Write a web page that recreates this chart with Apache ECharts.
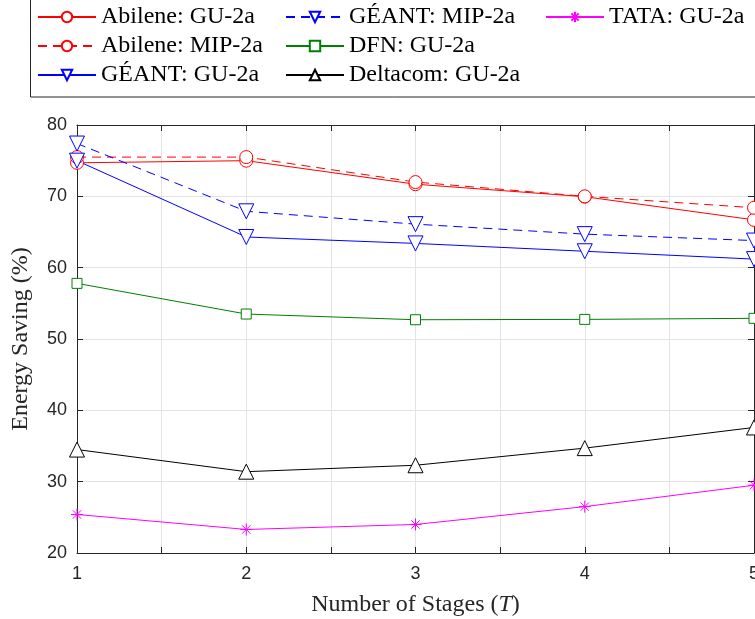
<!DOCTYPE html>
<html>
<head>
<meta charset="utf-8">
<script src="https://cdn.jsdelivr.net/npm/echarts@6/dist/echarts.min.js"></script>
<style>
  html, body { margin: 0; padding: 0; background: #fff; }
  #chart { width: 755px; height: 619px; }
</style>
</head>
<body>
<div id="chart"></div>
<script>
// data
const stages = [1, 2, 3, 4, 5];
const abileneGU = [74.7, 75.0, 71.7, 69.95, 66.7];
const abileneMIP = [75.5, 75.5, 72.0, 70.0, 68.4];
const geantGU = [75.0, 64.3, 63.4, 62.3, 61.2];
const geantMIP = [77.4, 67.9, 66.1, 64.7, 63.8];
const dfnGU = [57.8, 53.5, 52.7, 52.75, 52.9];
const deltacomGU = [34.5, 31.4, 32.3, 34.7, 37.6];
const tataGU = [25.4, 23.3, 24.0, 26.5, 29.5];
const yTicks = [20, 30, 40, 50, 60, 70, 80];

const serif = '"Liberation Serif", "DejaVu Serif", serif';
const sans = 'Helvetica, Arial, "Liberation Sans", sans-serif';
const axisColor = '#262626';
const asterisk = 'path://M0,-10L0,10M-10,0L10,0M-7,-7L7,7M-7,7L7,-7';

function pts(arr) {
    return stages.map(function (x, i) { return [x, arr[i]]; });
}

function mk(name, arr, color, symbol, size, dashed, rotate) {
    return {
        name: name,
        type: 'line',
        data: pts(arr),
        symbol: symbol,
        symbolSize: size,
        symbolRotate: rotate || 0,
        showAllSymbol: true,
        lineStyle: { color: color, width: 1, type: dashed ? [9, 6] : 'solid' },
        itemStyle: { color: symbol === asterisk ? 'none' : '#fff', borderColor: color, borderWidth: 1 },
        emphasis: { disabled: true },
        animation: false,
        z: 3
    };
}

const series = [
    mk('Abilene: GU-2a', abileneGU, '#ff0000', 'circle', 13, false),
    mk('Abilene: MIP-2a', abileneMIP, '#ff0000', 'circle', 13, true),
    mk('GÉANT: GU-2a', geantGU, '#0000ff', 'triangle', 15, false, 180),
    mk('GÉANT: MIP-2a', geantMIP, '#0000ff', 'triangle', 15, true, 180),
    mk('DFN: GU-2a', dfnGU, '#008000', 'rect', 10, false),
    mk('Deltacom: GU-2a', deltacomGU, '#000000', 'triangle', 15, false),
    mk('TATA: GU-2a', tataGU, '#ff00ff', asterisk, 12, false)
];

function legendCol(names, left) {
    return {
        data: names,
        orient: 'vertical',
        left: left,
        top: 5,
        padding: 0,
        itemWidth: 58,
        itemHeight: 13,
        itemGap: 5,
        selectedMode: false,
        textStyle: { fontFamily: serif, fontSize: 24, lineHeight: 24, color: '#000', padding: [0, 0, 0, 0] }
    };
}

const chart = echarts.init(document.getElementById('chart'));
chart.setOption({
    backgroundColor: '#fff',
    animation: false,
    graphic: [{
        type: 'rect',
        shape: { x: 30.5, y: -5, width: 800, height: 102 },
        style: { fill: 'none', stroke: '#262626', lineWidth: 1 },
        z: -1
    }],
    legend: [
        legendCol(['Abilene: GU-2a', 'Abilene: MIP-2a', 'GÉANT: GU-2a'], 37),
        legendCol(['GÉANT: MIP-2a', 'DFN: GU-2a', 'Deltacom: GU-2a'], 285),
        legendCol(['TATA: GU-2a'], 545)
    ],
    grid: { left: 77, top: 125, right: 1, bottom: 66, containLabel: false, outerBoundsMode: 'none' },
    xAxis: [{
        type: 'value',
        min: 1, max: 5, interval: 0.5,
        name: 'Number of Stages ({i|T})',
        nameLocation: 'middle',
        nameGap: 40,
        nameTextStyle: {
            fontFamily: serif, fontSize: 24, color: axisColor,
            rich: { i: { fontFamily: serif, fontSize: 24, fontStyle: 'italic', color: axisColor } }
        },
        axisLine: { lineStyle: { color: axisColor, width: 1 } },
        axisTick: { inside: true, length: 6, lineStyle: { color: axisColor } },
        axisLabel: {
            fontFamily: sans, fontSize: 18, color: axisColor, margin: 12,
            formatter: function (v) { return Number.isInteger(v) ? String(v) : ''; }
        },
        splitLine: { show: true, lineStyle: { color: '#e3e3e3', width: 1 } }
    }, {
        type: 'value', position: 'top',
        min: 1, max: 5, interval: 0.5,
        axisLine: { lineStyle: { color: axisColor, width: 1 } },
        axisTick: { inside: true, length: 6, lineStyle: { color: axisColor } },
        axisLabel: { show: false },
        splitLine: { show: false }
    }],
    yAxis: [{
        type: 'value',
        min: yTicks[0], max: yTicks[yTicks.length - 1], interval: 10,
        name: 'Energy Saving (%)',
        nameLocation: 'middle',
        nameGap: 44,
        nameTextStyle: { fontFamily: serif, fontSize: 24, color: axisColor },
        axisLine: { show: true, lineStyle: { color: axisColor, width: 1 } },
        axisTick: { show: true, inside: true, length: 6, lineStyle: { color: axisColor } },
        axisLabel: { fontFamily: sans, fontSize: 18, color: axisColor, margin: 10 },
        splitLine: { show: true, lineStyle: { color: '#e3e3e3', width: 1 } }
    }, {
        type: 'value', position: 'right',
        min: 20, max: 80, interval: 10,
        axisLine: { show: true, lineStyle: { color: axisColor, width: 1 } },
        axisTick: { show: true, inside: true, length: 6, lineStyle: { color: axisColor } },
        axisLabel: { show: false },
        splitLine: { show: false }
    }],
    series: series
});
</script>
</body>
</html>
